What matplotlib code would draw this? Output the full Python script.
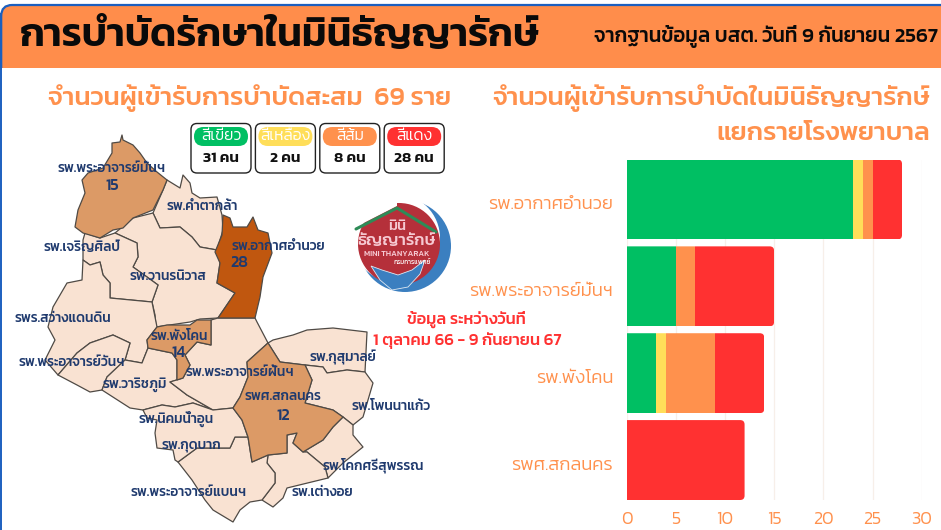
import matplotlib
matplotlib.use("Agg")
import matplotlib.pyplot as plt
from matplotlib.patches import Polygon, FancyBboxPatch, Circle, Rectangle
from matplotlib.transforms import ScaledTranslation

plt.rcParams['font.family'] = ['Kanit', 'DejaVu Sans']

# stacked bar data
hospitals = ["รพ.อากาศอำนวย", "รพ.พระอาจารย์มั่นฯ", "รพ.พังโคน", "รพศ.สกลนคร"]
green = [23, 5, 3, 0]
yellow = [1, 0, 1, 0]
orange = [1, 2, 5, 0]
red = [3, 8, 5, 12]
x_ticks = [0, 5, 10, 15, 20, 25, 30]

# legend boxes
legend_names = ["สีเขียว", "สีเหลือง", "สีส้ม", "สีแดง"]
legend_counts = ["31 คน", "2 คน", "8 คน", "28 คน"]

C_GREEN = "#00BF63"
C_YELLOW = "#FFDE59"
C_ORANGE = "#FF914D"
C_RED = "#FF3131"
C_NAVY = "#1F3A6E"
LIGHT = "#F9E2D2"
TAN = "#DC9A66"
DARK = "#C0570F"

phra_man = [(122,135),(123,140),(133,145),(140,153),(147,163),(157,172),(167,180),(163,190),(153,210),(133,218),
            (123,228),(113,230),(100,238),(83,233),(75,227),(78,210),(85,193),(82,180),(88,173),(103,168),(112,153),(112,143),(120,142)]
kham_ta_kla = [(167,180),(180,188),(183,175),(190,183),(192,193),(200,198),(217,197),(222,215),(223,230),(217,250),
               (200,247),(192,237),(180,227),(160,228),(153,213),(163,190)]
akat = [(223,215),(230,218),(233,227),(247,227),(253,217),(258,230),(268,233),(272,253),(263,277),(260,297),(255,318),
        (218,318),(235,293),(217,283),(220,263),(215,252),(222,235)]
wanon = [(115,233),(133,218),(153,213),(160,228),(180,227),(192,237),(200,247),(217,250),(220,263),(217,283),(235,293),
         (218,318),(200,319),(190,322),(156,327),(155,315),(152,302),(158,285),(147,277),(133,267),(138,257),(137,243)]
charoen = [(85,233),(100,238),(115,233),(137,243),(138,257),(133,267),(147,277),(158,285),(152,302),(110,298),(110,283),
           (103,275),(100,262),(90,265),(83,260),(83,240)]
sawang = [(83,260),(82,280),(67,283),(53,307),(48,327),(55,340),(45,360),(58,375),(77,353),(90,343),(113,335),(130,343),
          (125,360),(142,363),(148,348),(147,340),(157,327),(152,302),(110,298),(110,283),(103,275),(100,262),(90,265)]
phra_wan = [(58,375),(77,385),(90,392),(102,390),(107,377),(125,360),(130,343),(113,335),(90,343),(77,353)]
warit = [(102,390),(130,408),(143,410),(162,405),(175,407),(193,403),(213,410),(187,395),(170,382),(177,380),(177,360),
         (172,353),(148,348),(142,363),(125,360),(107,377)]
phang_khon = [(157,327),(167,325),(190,325),(197,320),(211,320),(211,345),(197,342),(185,355),(190,365),(183,378),(177,380),
              (177,360),(172,353),(148,348),(147,340)]
phra_fan = [(218,318),(255,318),(257,322),(268,343),(247,362),(248,377),(240,397),(233,408),(213,410),(187,395),(170,382),
            (183,378),(190,365),(185,355),(197,342),(211,345),(211,320)]
sakon = [(268,343),(280,362),(305,365),(312,380),(305,403),(333,410),(343,417),(333,427),(323,440),(303,452),(293,443),
         (297,433),(287,435),(287,453),(268,455),(252,462),(248,437),(242,420),(233,408),(240,397),(248,377),(247,362)]
kusuman = [(268,343),(273,340),(293,335),(307,330),(333,328),(367,332),(365,372),(347,370),(327,373),(323,367),(305,365),(280,362)]
phon_na = [(305,365),(323,367),(327,373),(347,370),(365,372),(373,383),(363,417),(353,425),(343,417),(333,410),(305,403),(312,380)]
khok_si = [(343,417),(353,425),(353,435),(363,447),(343,463),(328,478),(325,467),(307,452),(303,452),(323,440),(333,427)]
tao_ngoi = [(268,455),(287,453),(287,435),(297,433),(293,443),(303,452),(307,452),(325,467),(328,478),(287,488),(283,498),
            (273,507),(262,500),(275,483),(275,473),(267,463)]
phra_baen = [(178,462),(197,448),(230,448),(235,437),(248,437),(252,462),(268,455),(267,463),(275,473),(275,483),(262,500),
             (250,502),(240,510),(233,522),(213,510),(205,500),(192,480)]
nikhom = [(143,410),(147,418),(157,420),(155,433),(157,448),(173,450),(175,460),(178,462),(197,448),(230,448),(235,437),
          (248,437),(242,420),(233,408),(213,410),(193,403),(175,407),(162,405)]

districts = [(kham_ta_kla, LIGHT), (wanon, LIGHT), (charoen, LIGHT), (sawang, LIGHT), (phra_wan, LIGHT), (warit, LIGHT),
             (phra_fan, LIGHT), (kusuman, LIGHT), (phon_na, LIGHT), (khok_si, LIGHT), (tao_ngoi, LIGHT), (phra_baen, LIGHT),
             (nikhom, LIGHT), (phra_man, TAN), (phang_khon, TAN), (sakon, TAN), (akat, DARK)]

# map labels: text, x, y in picture pixels
map_labels = [("รพ.พระอาจารย์มั่นฯ", 112, 168), ("รพ.คำตากล้า", 202, 206),
              ("รพ.อากาศอำนวย", 278, 246), ("รพ.เจริญศิลป์", 82, 248),
              ("รพ.วานรนิวาส", 168, 277), ("รพร.สว่างแดนดิน", 63, 318), ("รพ.พังโคน", 179, 336),
              ("รพ.พระอาจารย์วันฯ", 72, 363), ("รพ.พระอาจารย์ฝั้นฯ", 240, 372),
              ("รพ.กุสุมาลย์", 343, 357), ("รพ.วาริชภูมิ", 135, 385), ("รพ.นิคมน้ำอูน", 176, 419),
              ("รพ.กุดบาก", 191, 445), ("รพศ.สกลนคร", 283, 397),
              ("รพ.โพนนาแก้ว", 391, 406), ("รพ.โคกศรีสุพรรณ", 373, 465),
              ("รพ.พระอาจารย์แบนฯ", 189, 492), ("รพ.เต่างอย", 322, 492)]
map_counts = [("15", 112, 186), ("28", 239, 263), ("14", 179, 353), ("12", 283, 416)]

fig = plt.figure(figsize=(9.41, 5.3), dpi=100)
page = fig.add_axes([0, 0, 1, 1])
page.set_xlim(0, 941)
page.set_ylim(530, 0)
page.axis("off")

# header band
band = FancyBboxPatch((1.2, 5), 980, 120, boxstyle="round,pad=0,rounding_size=11",
                      fc="#FF8D4B", ec="#1B5FBF", lw=1.6, zorder=1)
page.add_patch(band)
band.set_clip_path(Rectangle((-5, 0), 960, 68, transform=page.transData))
page.plot([0.7, 0.7], [14, 530], color="#1B5FBF", lw=1.4, zorder=1)
page.text(20, 36, "การบำบัดรักษาในมินิธัญญารักษ์", fontsize=28.6, weight="semibold", color="#0A0A0A", va="center")
page.text(938, 36, "จากฐานข้อมูล บสต. วันที่ 9 กันยายน 2567", fontsize=14.8, weight="medium", color="#0A0A0A",
          va="center", ha="right")

# section headings
page.text(250, 98, "จำนวนผู้เข้ารับการบำบัดสะสม  69 ราย", fontsize=18.9, weight="medium", color=C_ORANGE, ha="center", va="center")
page.text(930, 98, "จำนวนผู้เข้ารับการบำบัดในมินิธัญญารักษ์", fontsize=18.9, weight="medium", color=C_ORANGE, ha="right", va="center")
page.text(930, 134, "แยกรายโรงพยาบาล", fontsize=18.9, weight="medium", color=C_ORANGE, ha="right", va="center")

# legend boxes
for i, (name, count, col) in enumerate(zip(legend_names, legend_counts, [C_GREEN, C_YELLOW, C_ORANGE, C_RED])):
    x0 = 191 + i * 64.4
    page.add_patch(FancyBboxPatch((x0, 123.5), 60, 49.5, boxstyle="round,pad=0,rounding_size=6",
                                  fc="white", ec="#222222", lw=1.0, zorder=2))
    page.add_patch(FancyBboxPatch((x0 + 3, 127), 54, 19, boxstyle="round,pad=0,rounding_size=9.5",
                                  fc=col, ec="none", zorder=3))
    page.text(x0 + 30, 136, name, fontsize=11.3, weight=300, color="white", ha="center", va="center", zorder=4)
    page.text(x0 + 30, 158, count, fontsize=11, weight="semibold", color="#111111", ha="center", va="center", zorder=4)

# map
for pts, col in districts:
    page.add_patch(Polygon(pts, closed=True, fc=col, ec="#4F4A45", lw=0.9, joinstyle="round", zorder=2))
for label, x, y in map_labels:
    page.text(x, y, label, fontsize=9.8, weight="medium", color=C_NAVY, ha="center", va="center", zorder=5)
for label, x, y in map_counts:
    page.text(x, y, label, fontsize=11.5, weight="medium", color=C_NAVY, ha="center", va="center", zorder=5)

# date note
page.text(466, 319, "ข้อมูล ระหว่างวันที่", fontsize=11.8, weight="medium", color=C_RED, ha="center", va="center")
page.text(467, 341, "1 ตุลาคม 66 - 9 กันยายน 67", fontsize=11.9, weight="medium", color=C_RED, ha="center", va="center")

# logo
page.add_patch(Circle((405, 246), 46, fc="#3B7FC0", ec="none", zorder=2))
page.add_patch(Circle((396, 238), 44, fc="white", ec="none", zorder=3))
page.add_patch(Circle((399, 244), 41, fc="#B5303A", ec="none", zorder=3))
page.add_patch(Polygon([(350, 230), (397, 206), (397, 195), (350, 195)], fc="white", ec="none", zorder=3))
page.plot([356, 397, 436], [229, 208, 232], color="#2E8B57", lw=2.2, zorder=4, solid_capstyle="round")
page.add_patch(Polygon([(371, 266), (382, 270), (398, 275), (412, 270), (425, 260), (420, 274), (408, 287), (392, 290),
                        (380, 280)], fc="#3B7FC0", ec="#DDE8F2", lw=0.6, zorder=4))
page.text(397, 226, "มินิ", fontsize=10.5, weight="medium", color="#F6C9D2", ha="center", va="center", zorder=5)
page.text(397, 241, "ธัญญารักษ์", fontsize=12, weight="medium", color="#F6C9D2", ha="center", va="center", zorder=5)
page.text(397, 254, "MINI THANYARAK", fontsize=5.8, weight="medium", color="#F6C9D2", ha="center", va="center", zorder=5)
page.text(412, 262, "กรมการแพทย์", fontsize=4.8, color="white", ha="center", va="center", zorder=5)

# stacked bars
ax = fig.add_axes([626.5 / 941, (530 - 500) / 530, (921.7 - 626.5) / 941, (500 - 159.5) / 530])
ax.patch.set_alpha(0)
rows = range(len(hospitals))
left = [0] * len(hospitals)
totals = [g + y + o + r for g, y, o, r in zip(green, yellow, orange, red)]
x_per_row = 87 / 9.84
for values, col in zip([green, yellow, orange, red], [C_GREEN, C_YELLOW, C_ORANGE, C_RED]):
    bars = ax.barh(rows, values, left=left, height=0.92, color=col, zorder=3)
    for i, bar in enumerate(bars):
        # right corners of the stack are rounded
        clip = FancyBboxPatch((-2, i - 0.46), totals[i] + 2, 0.92, boxstyle="round,pad=0,rounding_size=0.45",
                              mutation_aspect=1 / x_per_row, transform=ax.transData)
        bar.set_clip_path(clip)
    left = [a + b for a, b in zip(left, values)]

ax.set_xlim(0, 30)
ax.set_ylim(3.46, -0.46)
ax.set_yticks(list(rows), hospitals)
ax.set_xticks(x_ticks)
ax.grid(axis="x", color="#F7EFE9", lw=0.9, zorder=0)
ax.set_axisbelow(True)
ax.tick_params(axis="y", length=0, pad=9.7, labelsize=13.3, labelcolor=C_ORANGE)
ax.tick_params(axis="x", length=0, pad=8, labelsize=13, labelcolor=C_ORANGE)
down = ScaledTranslation(0, -3 / 100, fig.dpi_scale_trans)
for lab in ax.get_yticklabels():
    lab.set_fontweight(300)
    lab.set_transform(lab.get_transform() + down)
for lab in ax.get_xticklabels():
    lab.set_fontweight(300)
for s in ax.spines.values():
    s.set_visible(False)

fig.savefig("out.png", dpi=100)
